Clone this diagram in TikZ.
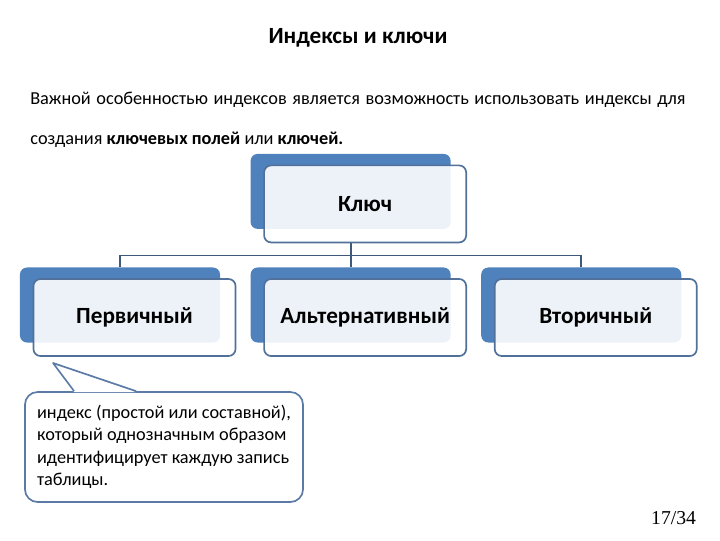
\documentclass[tikz,border=0pt]{standalone}
\usepackage{fontspec}
\setmainfont{Carlito}
\newfontfamily\pagefont{Liberation Serif}
\usetikzlibrary{calc,positioning}

\definecolor{boxblue}{HTML}{4F81BD}
\definecolor{edgeblue}{HTML}{52719A}
\definecolor{linegray}{HTML}{3E5A7A}
\definecolor{noteblue}{HTML}{5B7BA6}

\begin{document}
\begin{tikzpicture}[
    x=0.025cm, y=-0.025cm,
    node distance=0.75cm,
    back/.style={rectangle, rounded corners=5pt, fill=boxblue, inner sep=0pt, minimum width=5cm, minimum height=1.875cm},
    front/.style={rectangle, rounded corners=5pt, draw=edgeblue, line width=1.2pt, fill=white, fill opacity=0.9, text opacity=1, minimum width=5.05cm, minimum height=1.925cm, font=\bfseries\fontsize{16.5}{20}\selectfont},
    conn/.style={draw=linegray, line width=1.3pt},
    note/.style={rectangle, rounded corners=9pt, draw=noteblue, line width=1.2pt, fill=white, minimum width=6.95cm, minimum height=2.75cm, align=left, font=\fontsize{13}{16}\selectfont}
]

\useasboundingbox (0,0) rectangle (720,540);

% Заголовок
\node[font=\bfseries\fontsize{16.5}{19}\selectfont] (title) at (358,38) {Индексы и ключи};

% Текст
\node[anchor=west, inner sep=0pt, font=\fontsize{13}{16}\selectfont] (line1) at (30,100)
{\makebox[466pt][s]{Важной особенностью индексов является возможность использовать индексы для}};
\node[anchor=west, inner sep=0pt, font=\fontsize{13}{16}\selectfont] (line2) at (30,140)
{создания \textbf{ключевых полей} или \textbf{ключей.}};

% Подложки
\node[back] (perwB) at (120,305) {};
\node[back, right=of perwB] (altB) {};
\node[back, right=of altB] (wtorB) {};
\node[back, above=0.95cm of altB] (kluchB) {};

% Блоки
\node[front] (kluch) at ($(kluchB)+(14.5,12.5)$) {Ключ};
\node[front] (perw) at ($(perwB)+(14.5,12.5)$) {Первичный};
\node[front] (alt) at ($(altB)+(14.5,12.5)$) {Альтернативный};
\node[front] (wtor) at ($(wtorB)+(14.5,12.5)$) {Вторичный};

% Связи
\path (kluchB) ++(0,64) coordinate (bus);
\draw[conn] (kluch.south -| bus) -- (bus);
\draw[conn] (perwB.north) |- (bus) -| (wtorB.north);
\draw[conn] (bus) -- (altB.north);

% Выноска
\node[note] (note) at (164,447) {индекс (простой или составной),\\который однозначным образом\\идентифицирует каждую запись\\таблицы.};
\coordinate (tip) at (53,363);
\fill[white] ($(note.north west)+(50,1)$) -- (tip) -- ($(note.north west)+(112,1)$) -- cycle;
\draw[draw=noteblue, line width=1.2pt, line join=round] ($(note.north west)+(50,0)$) -- (tip) -- ($(note.north west)+(112,0)$);

% Номер
\node[anchor=east, font=\pagefont\fontsize{14}{16}\selectfont] (page) at (701,518) {17/34};

\end{tikzpicture}
\end{document}
